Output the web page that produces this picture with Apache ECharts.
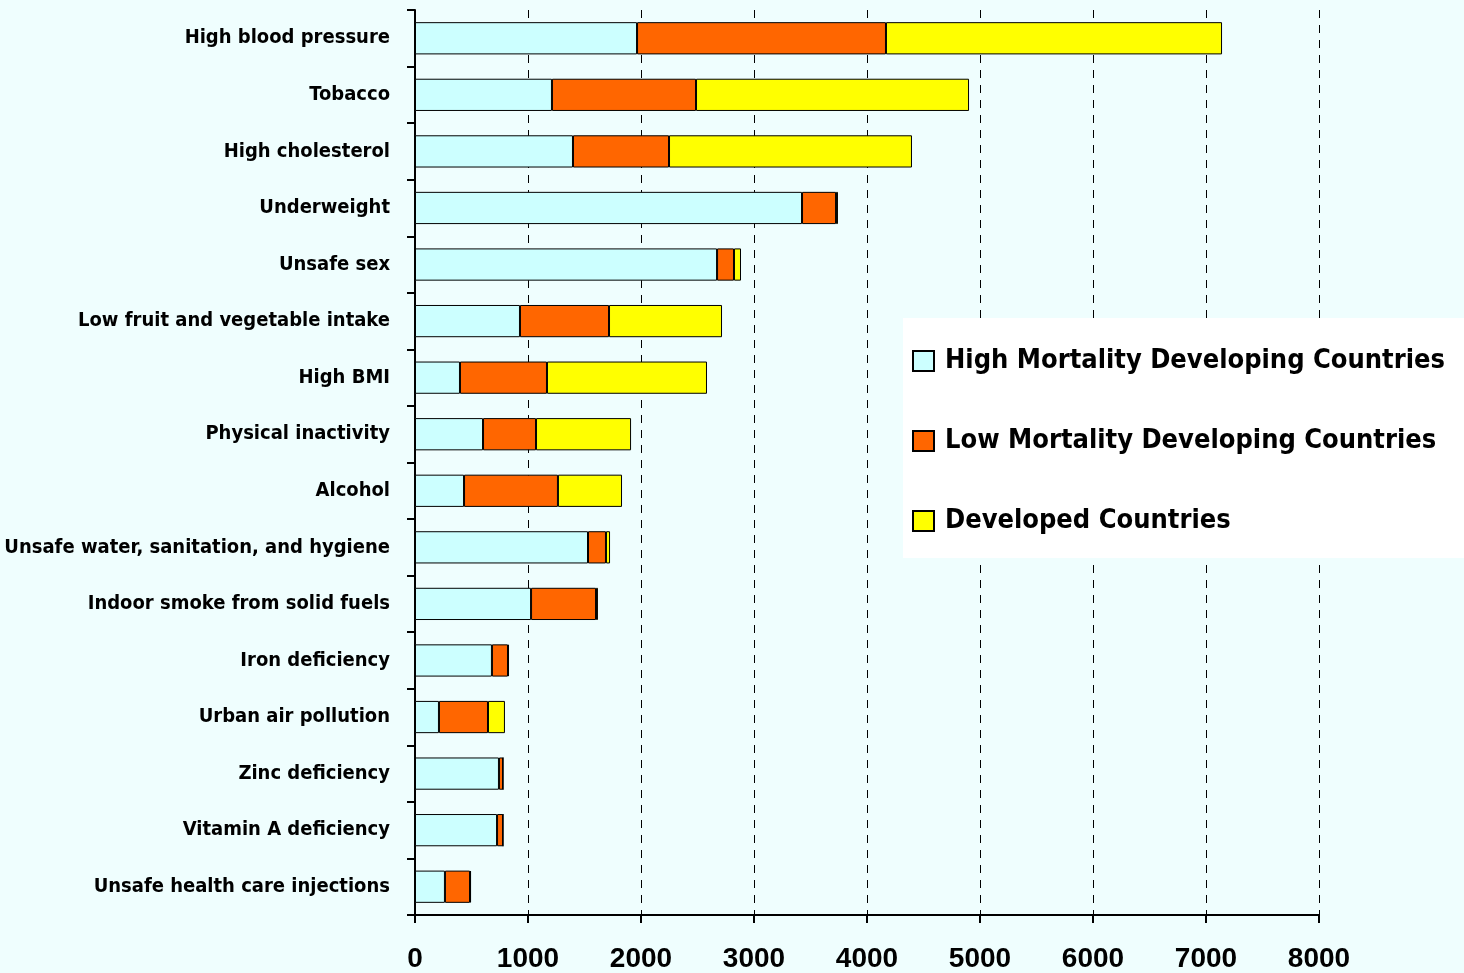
<!DOCTYPE html>
<html>
<head>
<meta charset="utf-8">
<script src="https://cdn.jsdelivr.net/npm/echarts@6/dist/echarts.min.js"></script>
<style>
  html, body { margin: 0; padding: 0; background: #effefe; }
  #chart { width: 1464px; height: 973px; }
</style>
</head>
<body>
<div id="chart"></div>
<script>
const riskFactors = [
  'High blood pressure', 'Tobacco', 'High cholesterol', 'Underweight', 'Unsafe sex',
  'Low fruit and vegetable intake', 'High BMI', 'Physical inactivity', 'Alcohol',
  'Unsafe water, sanitation, and hygiene', 'Indoor smoke from solid fuels',
  'Iron deficiency', 'Urban air pollution', 'Zinc deficiency', 'Vitamin A deficiency',
  'Unsafe health care injections'
]

// deaths (thousands) per region group
const highMortality = [1965, 1212, 1398, 3425, 2673, 929, 398, 602, 434, 1531, 1027, 681, 212, 743, 726, 265]
const lowMortality  = [2203, 1275, 850, 301, 150, 788, 770, 469, 831, 159, 575, 142, 434, 36, 53, 222]
const developed     = [2974, 2416, 2150, 17, 62, 1000, 1416, 841, 567, 36, 17, 9, 150, 0, 0, 9]

const xTicks = [0, 1000, 2000, 3000, 4000, 5000, 6000, 7000, 8000]

const narrowFont = '"DejaVu Sans Condensed", "Liberation Sans Narrow", "Arial Narrow", sans-serif'

const chart = echarts.init(document.getElementById('chart'))

const barStyle = (color) => ({
  color,
  borderColor: '#000',
  borderWidth: 1
})

const option = {
  backgroundColor: '#effefe',
  animation: false,
  grid: {
    left: 415,
    right: 145,
    top: 10,
    bottom: 58,
    containLabel: false,
    outerBoundsMode: 'none'
  },
  legend: {
    orient: 'vertical',
    left: 903,
    top: 318,
    width: 561,
    padding: [27, 20, 21, 9],
    backgroundColor: '#ffffff',
    icon: 'rect',
    itemGap: 48,
    itemWidth: 21,
    itemHeight: 20,
    textStyle: {
      fontFamily: narrowFont,
      fontWeight: 'bold',
      fontSize: 27,
      color: '#000',
      lineHeight: 32,
      padding: [0, 0, 0, 6]
    },
    data: ['High Mortality Developing Countries', 'Low Mortality Developing Countries', 'Developed Countries']
  },
  xAxis: {
    type: 'value',
    min: xTicks[0],
    max: xTicks[xTicks.length - 1],
    interval: 1000,
    axisLine: { show: true, onZero: false, lineStyle: { color: '#000', width: 2 } },
    axisTick: { show: true, length: 8, lineStyle: { color: '#000', width: 2 } },
    axisLabel: {
      margin: 30,
      fontFamily: 'Liberation Sans, Arial, sans-serif',
      fontWeight: 'bold',
      fontSize: 28,
      color: '#000',
      formatter: (v) => String(v)
    },
    splitLine: {
      show: true,
      lineStyle: { color: '#000', type: [8, 7], width: 1 }
    }
  },
  yAxis: {
    type: 'category',
    inverse: true,
    data: riskFactors,
    axisLine: { show: true, lineStyle: { color: '#000', width: 2 } },
    axisTick: { show: true, length: 8, inside: false, lineStyle: { color: '#000', width: 2 } },
    axisLabel: {
      margin: 25,
      fontFamily: narrowFont,
      fontWeight: 'bold',
      fontSize: 20,
      color: '#000',
      padding: [3, 0, 0, 0]
    },
    splitLine: { show: false }
  },
  series: [
    {
      name: 'High Mortality Developing Countries',
      type: 'bar',
      stack: 'total',
      barWidth: '57%',
      itemStyle: barStyle('#ccffff'),
      data: highMortality
    },
    {
      name: 'Low Mortality Developing Countries',
      type: 'bar',
      stack: 'total',
      barWidth: '57%',
      itemStyle: barStyle('#ff6600'),
      data: lowMortality
    },
    {
      name: 'Developed Countries',
      type: 'bar',
      stack: 'total',
      barWidth: '57%',
      itemStyle: barStyle('#ffff00'),
      data: developed
    }
  ]
}

chart.setOption(option)
</script>
</body>
</html>
